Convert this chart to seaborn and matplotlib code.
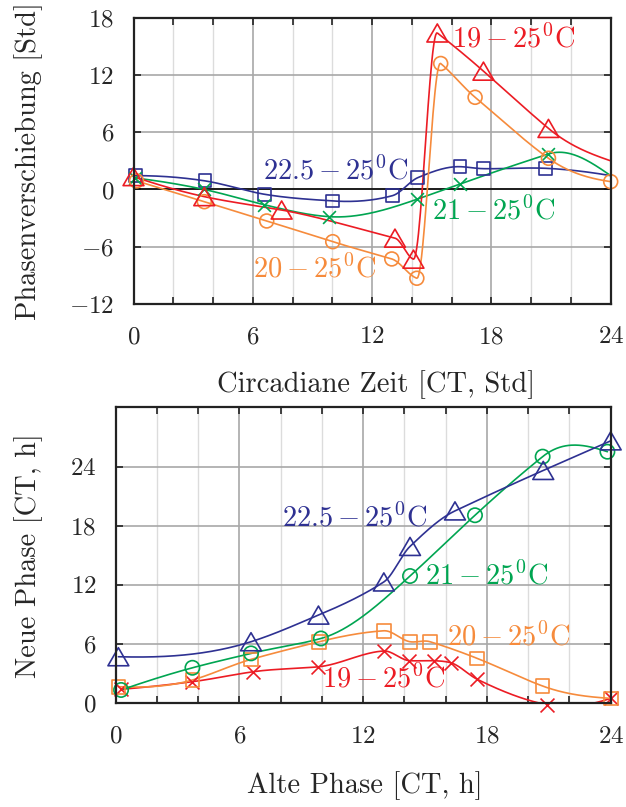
import numpy as np
import matplotlib
matplotlib.use("Agg")
import matplotlib.pyplot as plt
from matplotlib.path import Path
from matplotlib.ticker import MultipleLocator
import seaborn as sns

# ---------------- Phasenverschiebung (oberes Diagramm) ----------------
top_red_x = [0.0, 3.56, 7.45, 13.15, 14.08, 15.28, 17.6, 20.87, 24.0]
top_red_y = [1.35, -0.75, -2.15, -5.1, -7.3, 16.4, 12.4, 6.4, 3.0]
top_red_marked = 8

top_orange_x = [0.15, 3.56, 6.7, 10.02, 12.99, 14.25, 15.45, 17.18, 20.87, 24.0]
top_orange_y = [0.9, -1.28, -3.3, -5.47, -7.28, -9.3, 13.2, 9.66, 3.27, 0.82]
top_orange_marked = 10

top_green_x = [0.1, 3.56, 6.58, 9.85, 14.25, 16.42, 20.87, 24.0]
top_green_y = [1.2, 0.0, -1.6, -2.85, -1.03, 0.58, 3.72, 1.45]
top_green_marked = 7

top_blue_x = [0.1, 3.6, 6.58, 10.02, 13.02, 14.3, 16.42, 17.6, 20.73, 24.0]
top_blue_y = [1.45, 0.9, -0.5, -1.2, -0.65, 1.24, 2.39, 2.18, 2.22, 1.45]
top_blue_marked = 9

# ---------------- Neue Phase (unteres Diagramm) ----------------
bot_blue_x = [0.13, 6.56, 9.83, 13.0, 14.27, 16.45, 20.73, 24.0]
bot_blue_y = [4.72, 6.24, 8.94, 12.3, 15.9, 19.5, 23.6, 26.6]

bot_green_x = [0.26, 3.72, 6.56, 9.95, 14.27, 17.42, 20.7, 23.84]
bot_green_y = [1.35, 3.6, 5.06, 6.57, 12.9, 19.06, 25.0, 25.5]

bot_orange_x = [0.13, 3.72, 6.56, 9.86, 13.0, 14.27, 15.24, 17.53, 20.7, 24.0]
bot_orange_y = [1.68, 2.36, 4.45, 6.24, 7.35, 6.24, 6.24, 4.55, 1.75, 0.5]

bot_red_x = [0.26, 3.72, 6.67, 9.83, 13.0, 14.24, 15.43, 16.26, 17.53, 20.9, 24.0]
bot_red_y = [1.42, 2.19, 3.2, 3.7, 5.3, 4.32, 4.32, 4.1, 2.43, -0.14, 0.5]

# Beschriftungen
series_labels = ["19 - 25", "20 - 25", "21 - 25", "22.5 - 25"]
x_ticks = [0, 6, 12, 18, 24]
top_y_ticks = [-12, -6, 0, 6, 12, 18]
bot_y_ticks = [0, 6, 12, 18, 24]

RED = "#ec1c24"
ORANGE = "#f68b3c"
GREEN = "#00a551"
BLUE = "#2e3192"

sns.set_theme(style="white")
plt.rcParams["font.family"] = ["cmr10", "DejaVu Serif"]
plt.rcParams["mathtext.fontset"] = "cm"
plt.rcParams["axes.unicode_minus"] = False
FS_TICK = 18
FS_TEXT = 20.5
LW = 1.2

# gleichseitiges Dreieck, Bounding-Box zentriert
TRI = Path([(0, 0.75), (-0.866, -0.75), (0.866, -0.75), (0, 0.75)],
           [Path.MOVETO, Path.LINETO, Path.LINETO, Path.CLOSEPOLY])


def akima(x, y, n=500):
    x = np.asarray(x, float)
    y = np.asarray(y, float)
    m = np.diff(y) / np.diff(x)
    mm = np.empty(len(m) + 4)
    mm[2:-2] = m
    mm[1] = 2 * m[0] - m[1]
    mm[0] = 2 * mm[1] - m[0]
    mm[-2] = 2 * m[-1] - m[-2]
    mm[-1] = 2 * mm[-2] - m[-1]
    dm = np.abs(np.diff(mm))
    w1, w2 = dm[2:], dm[:-2]
    den = w1 + w2
    safe = np.where(den > 1e-9, den, 1.0)
    t = np.where(den > 1e-9, (w1 * mm[1:-2] + w2 * mm[2:-1]) / safe,
                 0.5 * (mm[1:-2] + mm[2:-1]))
    xs = np.linspace(x[0], x[-1], n)
    i = np.clip(np.searchsorted(x, xs) - 1, 0, len(x) - 2)
    h = x[i + 1] - x[i]
    s = (xs - x[i]) / h
    h00 = 2 * s**3 - 3 * s**2 + 1
    h10 = s**3 - 2 * s**2 + s
    h01 = -2 * s**3 + 3 * s**2
    h11 = s**3 - s**2
    ys = h00 * y[i] + h10 * h * t[i] + h01 * y[i + 1] + h11 * h * t[i + 1]
    return xs, ys


def draw(ax, x, y, color, marker, size, n_marked=None, filled=True):
    if n_marked is None:
        n_marked = len(x)
    xs, ys = akima(x, y)
    sns.lineplot(x=xs, y=ys, ax=ax, color=color, lw=LW, sort=False,
                 estimator=None, legend=False, zorder=3)
    sns.scatterplot(x=x[:n_marked], y=y[:n_marked], ax=ax, marker=marker,
                    s=size, legend=False, zorder=4, clip_on=False)
    coll = ax.collections[-1]
    if filled:
        coll.set_facecolor("none")
        coll.set_edgecolor(color)
    else:
        coll.set_color(color)
    coll.set_linewidth(LW)


def style_axes(ax, yticks, ylim):
    ax.set_xlim(0, 24)
    ax.set_ylim(*ylim)
    ax.set_xticks(x_ticks)
    ax.set_xticklabels([f"${v}$" for v in x_ticks], fontsize=FS_TICK)
    ax.set_yticks(yticks)
    ax.set_yticklabels([f"${v}$" for v in yticks], fontsize=FS_TICK)
    ax.xaxis.set_minor_locator(MultipleLocator(2))
    ax.grid(which="minor", axis="x", color="#dcdcdc", lw=1.0, zorder=0)
    ax.grid(which="major", axis="both", color="#a8a8a8", lw=1.2, zorder=0)
    ax.set_axisbelow(True)
    ax.tick_params(which="both", direction="in", top=True, right=True,
                   bottom=True, left=True, length=5, width=1.2, color="#222222")
    ax.tick_params(axis="x", which="major", pad=16)
    ax.tick_params(axis="y", which="major", pad=14)
    for sp in ax.spines.values():
        sp.set_color("#222222")
        sp.set_linewidth(1.6)
        sp.set_zorder(5)
    ax.set_xlabel("")
    ax.set_ylabel("")


def lab(ax, x, y, text, color):
    a, b = text.split(" - ")
    ax.text(x, y, rf"${a} - {b}^0\mathrm{{C}}$", color=color,
            fontsize=FS_TEXT, ha="left", va="baseline", zorder=6)


fig = plt.figure(figsize=(6.26, 8.07), dpi=100)
W, H = 626, 807
ax1 = fig.add_axes([133.5 / W, 1 - 304 / H, (610.7 - 133.5) / W, (304 - 17.7) / H])
ax2 = fig.add_axes([115.7 / W, 1 - 703.3 / H, (610.7 - 115.7) / W, (703.3 - 407.3) / H])

# oberes Diagramm
style_axes(ax1, top_y_ticks, (-12, 18))
ax1.axhline(0, color="#111111", lw=1.3, zorder=2)
draw(ax1, top_blue_x, top_blue_y, BLUE, "s", 85, top_blue_marked)
draw(ax1, top_green_x, top_green_y, GREEN, "x", 85, top_green_marked, filled=False)
draw(ax1, top_orange_x, top_orange_y, ORANGE, "o", 100, top_orange_marked)
draw(ax1, top_red_x, top_red_y, RED, TRI, 225, top_red_marked)
lab(ax1, 16.0, 14.9, series_labels[0], RED)
lab(ax1, 6.5, 1.08, series_labels[3], BLUE)
lab(ax1, 15.0, -3.11, series_labels[2], GREEN)
lab(ax1, 6.0, -9.19, series_labels[1], ORANGE)

# unteres Diagramm
style_axes(ax2, bot_y_ticks, (0, 30))
draw(ax2, bot_red_x, bot_red_y, RED, "x", 100, filled=False)
draw(ax2, bot_orange_x, bot_orange_y, ORANGE, "s", 96)
draw(ax2, bot_green_x, bot_green_y, GREEN, "o", 106)
draw(ax2, bot_blue_x, bot_blue_y, BLUE, TRI, 225)
lab(ax2, 8.05, 17.95, series_labels[3], BLUE)
lab(ax2, 15.0, 12.05, series_labels[2], GREEN)
lab(ax2, 16.05, 5.81, series_labels[1], ORANGE)
lab(ax2, 10.0, 1.63, series_labels[0], RED)

# Achsentitel
fig.text(376 / W, 1 - 385 / H, "Circadiane Zeit [CT, Std]", fontsize=FS_TEXT,
         ha="center", va="center")
fig.text(29 / W, 1 - 161 / H, "Phasenverschiebung [Std]", fontsize=FS_TEXT,
         ha="center", va="center", rotation=90)
fig.text(365 / W, 1 - 786 / H, "Alte Phase [CT, h]", fontsize=FS_TEXT,
         ha="center", va="center")
fig.text(29 / W, 1 - 556 / H, "Neue Phase [CT, h]", fontsize=FS_TEXT,
         ha="center", va="center", rotation=90)

fig.savefig("out.png", dpi=100)
